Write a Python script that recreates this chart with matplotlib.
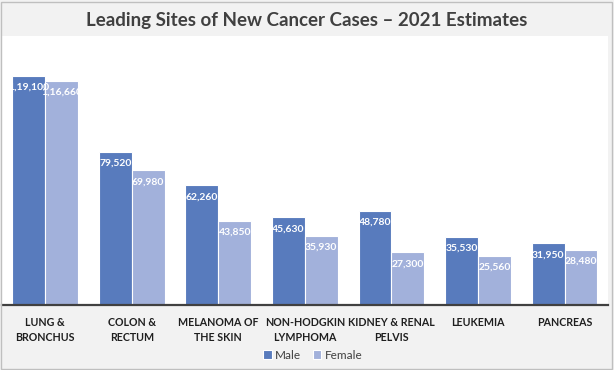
import matplotlib
matplotlib.use("Agg")
import matplotlib.pyplot as plt
import matplotlib.patches as mpatches
import numpy as np

# data
categories = ["LUNG &\nBRONCHUS", "COLON &\nRECTUM", "MELANOMA OF\nTHE SKIN",
              "NON-HODGKIN\nLYMPHOMA", "KIDNEY & RENAL\nPELVIS", "LEUKEMIA", "PANCREAS"]
male = [119100, 79520, 62260, 45630, 48780, 35530, 31950]
female = [116660, 69980, 43850, 35930, 27300, 25560, 28480]

MALE_C = "#587BBD"
FEMALE_C = "#A2B1DB"
BG = "#F2F2F2"
TXT = "#1F1F1F"
FONT = ["Lato", "DejaVu Sans"]


def indian(n):
    s = str(int(n))
    if len(s) <= 3:
        return s
    head, tail = s[:-3], s[-3:]
    parts = []
    while len(head) > 2:
        parts.insert(0, head[-2:])
        head = head[:-2]
    if head:
        parts.insert(0, head)
    return ",".join(parts + [tail])


plt.rcParams["font.family"] = FONT

fig = plt.figure(figsize=(6.14, 3.70), dpi=100)
fig.patch.set_facecolor(BG)
fig.add_artist(mpatches.Rectangle((0.002, 0.003), 0.994, 0.992, transform=fig.transFigure,
                                  fill=False, edgecolor="#BFBFBF", linewidth=1))

ax = fig.add_axes([0.003, 0.176, 0.987, 0.727])
ax.set_facecolor("white")

x = np.arange(len(categories))
w = 0.38
b1 = ax.bar(x - w / 2, male, w, color=MALE_C, edgecolor="white", linewidth=0.8, label="Male")
b2 = ax.bar(x + w / 2, female, w, color=FEMALE_C, edgecolor="white", linewidth=0.8, label="Female")

for bars, vals in ((b1, male), (b2, female)):
    for r, v in zip(bars, vals):
        ax.annotate(indian(v), (r.get_x() + r.get_width() / 2, v),
                    xytext=(0, -5), textcoords="offset points",
                    ha="center", va="top", color="white",
                    fontsize=7.5, fontweight="bold")

ax.set_xlim(-0.5, len(categories) - 0.5)
ax.set_ylim(0, 140000)
ax.set_yticks([])
ax.set_xticks(x)
ax.set_xticklabels(categories, fontsize=7.7, fontweight="bold", color=TXT, linespacing=1.35)
ax.tick_params(axis="x", length=0, pad=9)
for s in ("top", "right", "left"):
    ax.spines[s].set_visible(False)
ax.spines["bottom"].set_color("#404040")
ax.spines["bottom"].set_linewidth(1.6)

fig.text(0.5, 0.945, "Leading Sites of New Cancer Cases \u2013 2021 Estimates",
         ha="center", va="center", fontsize=13.5, fontweight="bold", color="#404040")

fig.legend(handles=[b1, b2], loc="center", bbox_to_anchor=(0.51, 0.04), ncol=2,
           frameon=False, fontsize=8.5, handlelength=0.7, handleheight=0.7,
           handletextpad=0.3, columnspacing=1.0, labelcolor="#404040")

fig.savefig("out.png", dpi=100, facecolor=BG)
